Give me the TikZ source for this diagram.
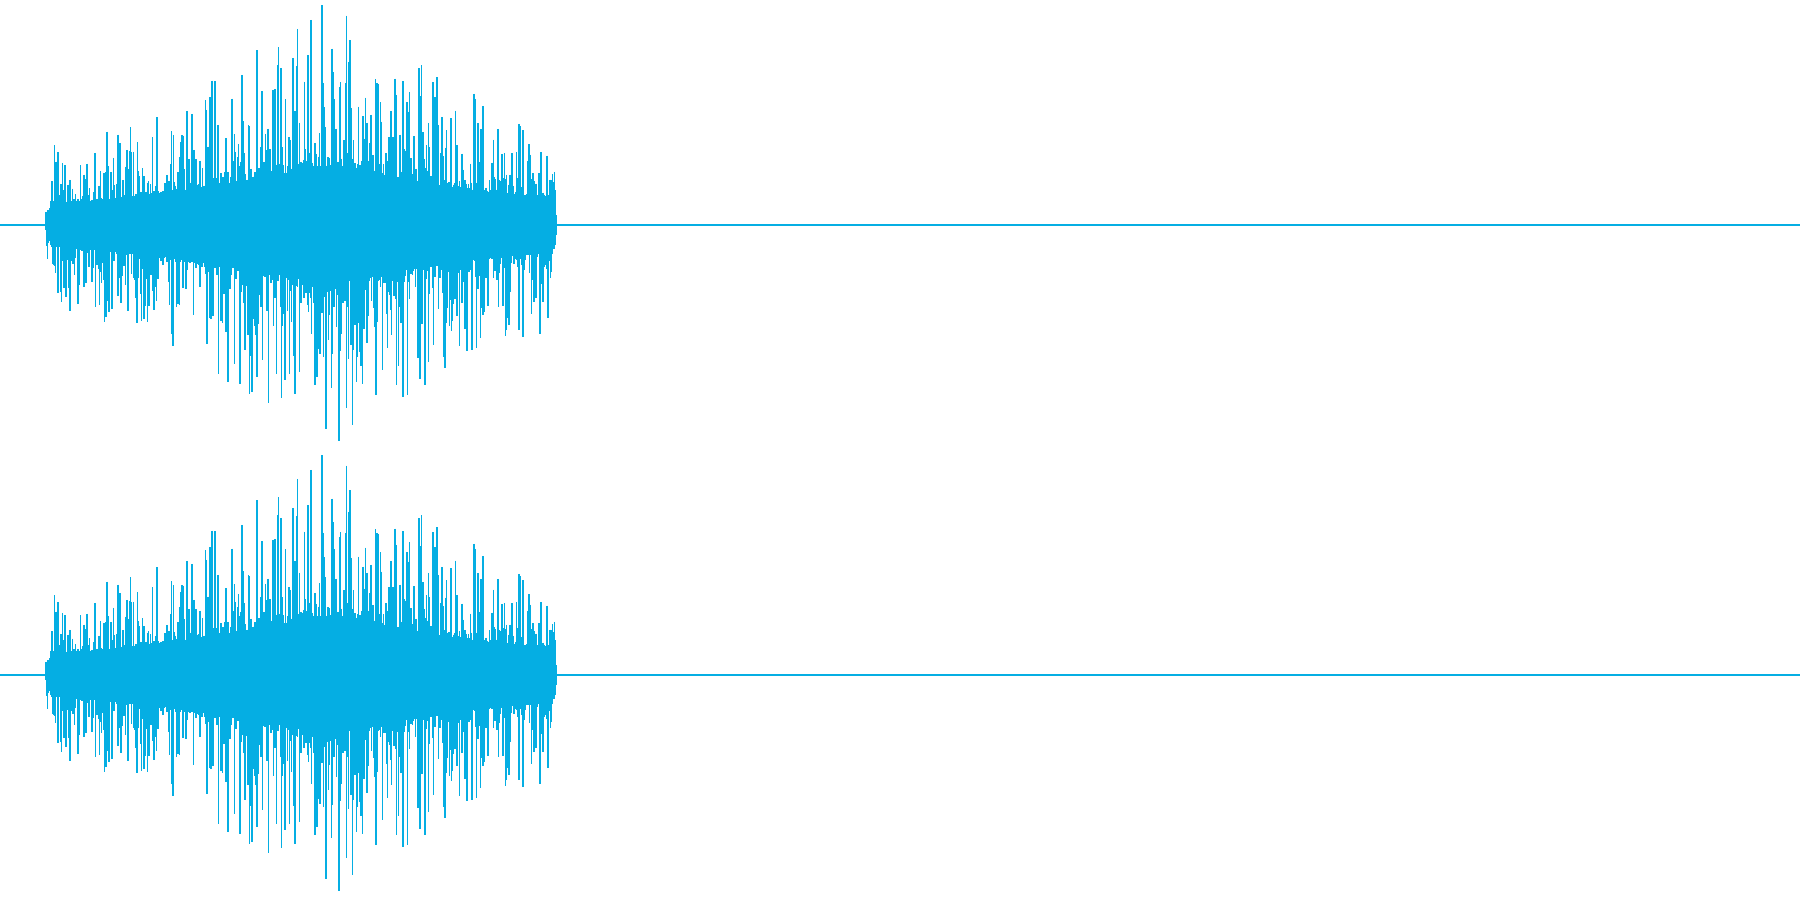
\documentclass[tikz,border=0pt]{standalone}
\definecolor{wavecol}{HTML}{05AEE3}
\tikzset{wave/.style={draw=wavecol,line width=0.45pt}}
\begin{document}
\begin{tikzpicture}
\useasboundingbox (0,0) rectangle (18,9);
\pgfmathsetseed{7}
\draw[wave] (0,6.75) -- (18,6.75);
\draw[wave] (0,2.25) -- (18,2.25);
\foreach \i in {0,...,899}{
  \pgfmathsetmacro\x{0.46+\i*5.1/899}
  \pgfmathsetmacro\c{\x<3.3 ? 0.22+0.38*((\x-0.46)/2.84)^1.5 : 0.28+0.32*((5.56-\x)/2.26)^1.5}
  \pgfmathsetmacro\t{min(1,(\x-0.44)/0.08)*min(1,(5.58-\x)/0.06)}
  \pgfmathsetmacro\u{\t*\c*(1+2.8*rnd^5)}
  \pgfmathsetmacro\d{\t*\c*(1+2.8*rnd^5)}
  \draw[wave] (\x,6.75+\u) -- (\x,6.75-\d) (\x,2.25+\u) -- (\x,2.25-\d);
}
\end{tikzpicture}
\end{document}
